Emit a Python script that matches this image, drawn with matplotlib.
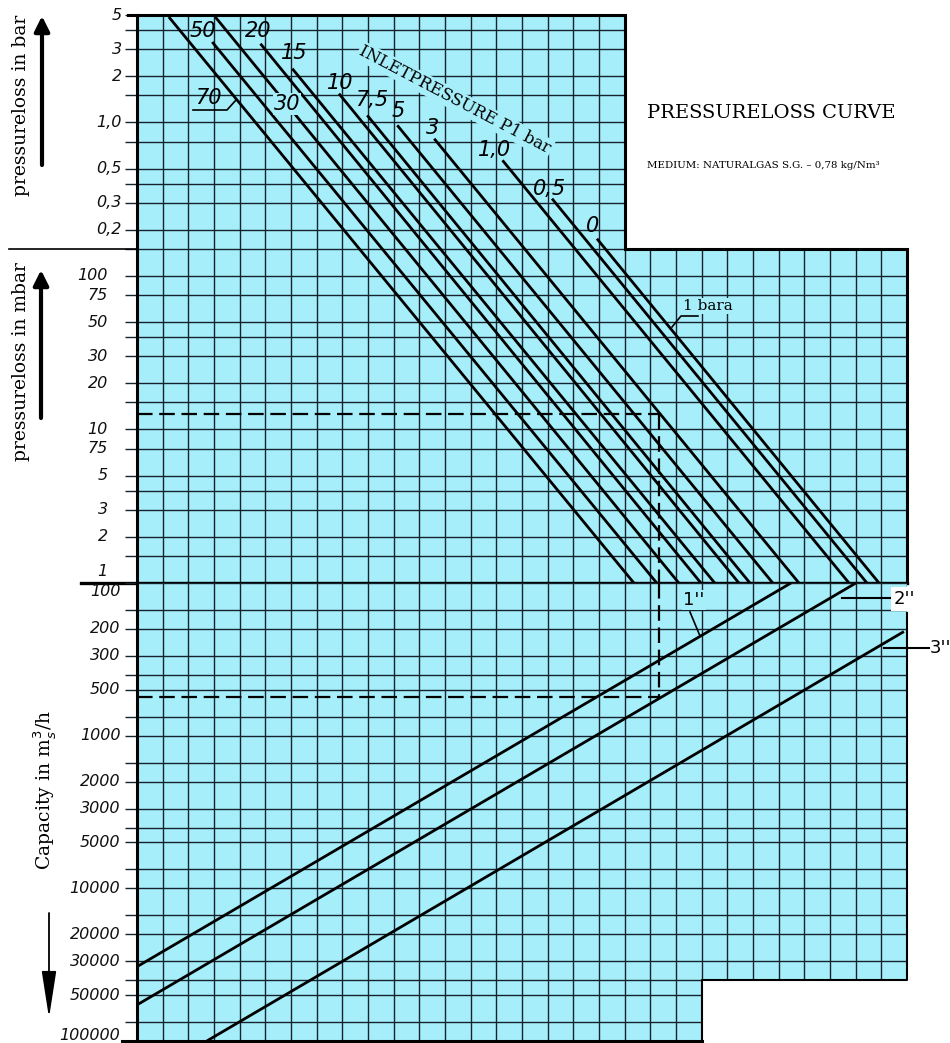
import numpy as np
import matplotlib.pyplot as plt
from matplotlib.patches import Polygon
from matplotlib.lines import Line2D
from matplotlib.ticker import NullLocator
from matplotlib.transforms import IdentityTransform

W, H = 950, 1043
CYAN = '#a6eefa'
GRID = '#14232e'

# pressure loss axis in mbar (grid lines and labelled values)
p_grid = [1, 1.5, 2, 3, 4, 5, 7.5, 10, 15, 20, 30, 40, 50, 75, 100, 150,
          200, 300, 400, 500, 750, 1000, 1500, 2000, 3000, 4000, 5000]
bar_ticks = [5000, 3000, 2000, 1000, 500, 300, 200]
bar_labels = ['5', '3', '2', '1,0', '0,5', '0,3', '0,2']
mbar_ticks = [100, 75, 50, 30, 20, 10, 7.5, 5, 3, 2, 1]
mbar_labels = ['100', '75', '50', '30', '20', '10', '75', '5', '3', '2', '1']

# capacity axis in m3/h
cap_grid = [100, 150, 200, 300, 400, 500, 750, 1000, 1500, 2000, 3000, 4000,
            5000, 7500, 10000, 15000, 20000, 30000, 40000, 50000, 75000, 100000]
cap_ticks = [100, 200, 300, 500, 1000, 2000, 3000, 5000, 10000, 20000,
             30000, 50000, 100000]

# inlet pressure lines: upper start (column, mbar) -> end on the 1 mbar line
inlet = ['70', '50', '30', '20', '15', '10', '7,5', '5', '3', '1,0', '0,5', '0']
x_start = [1.24, 2.93, 3.05, 4.81, 6.05, 7.87, 8.97, 10.14, 11.58, 14.24, 16.17, 17.92]
p_start = [4870, 3345, 4870, 3260, 2243, 1541, 1114, 959, 784, 567, 319, 175]
x_end = [19.36, 20.25, 21.11, 21.97, 22.51, 23.45, 23.88, 24.77, 25.79, 27.74, 28.44, 28.91]

# pipe size lines: (column, capacity) pairs
pipes = ['1"', '2"', '3"']
pipe_x0 = [0.0, 0.0, 2.72]
pipe_c0 = [32600, 58000, 100000]
pipe_x1 = [25.48, 28.01, 29.88]
pipe_c1 = [100, 100, 208]

# worked example (dashed)
ex_x = 20.33
ex_dp = 12.6
ex_cap = 558

fig = plt.figure(figsize=(W / 100, H / 100), dpi=100)
L, R, y_top, y_mid, y_bot = 137, 907, 15.2, 583, 1041
ax_p = fig.add_axes([L / W, 1 - y_mid / H, (R - L) / W, (y_mid - y_top) / H])
ax_c = fig.add_axes([L / W, 1 - y_bot / H, (R - L) / W, (y_bot - y_mid) / H])

ax_p.set_yscale('log')
ax_p.set_ylim(1, 5000)
ax_c.set_yscale('log')
ax_c.set_ylim(100000, 100)

top_shape = [(0, 1), (30, 1), (30, 150), (19, 150), (19, 5000), (0, 5000)]
bot_shape = [(0, 100), (30, 100), (30, 40000), (22, 40000), (22, 100000), (0, 100000)]

for ax, shape, grid in ((ax_p, top_shape, p_grid), (ax_c, bot_shape, cap_grid)):
    ax.set_xlim(0, 30)
    ax.patch.set_visible(False)
    for s in ax.spines.values():
        s.set_visible(False)
    ax.set_xticks([])
    ax.yaxis.set_minor_locator(NullLocator())
    ax.set_yticks(grid)
    ax.set_yticklabels([])
    ax.tick_params(axis='y', length=9, width=1.0, color=GRID)
    patch = Polygon(shape, closed=True, fc=CYAN, ec='none', zorder=0)
    ax.add_patch(patch)
    lo, hi = min(grid), max(grid)
    vl = ax.vlines(np.arange(0, 31), lo, hi, color=GRID, lw=1.0, zorder=1)
    hl = ax.hlines(grid, 0, 30, color=GRID, lw=1.0, zorder=1)
    vl.set_clip_path(patch)
    hl.set_clip_path(patch)

# outlines
xs, ys = zip(*(top_shape + [top_shape[0]]))
ax_p.plot(xs, ys, color='k', lw=2.2, clip_on=False, zorder=5, solid_joinstyle='miter')
ax_p.plot([-2.2, 30], [1, 1], color='k', lw=2.4, clip_on=False, zorder=5)
ax_p.plot([-5.0, 0], [150, 150], color='k', lw=1.2, clip_on=False, zorder=5)
ax_p.plot([-0.35, 0], [5000, 5000], color='k', lw=2.2, clip_on=False, zorder=5)
ax_c.plot([0, 0, 22], [100, 100000, 100000], color='k', lw=2.2, clip_on=False, zorder=5,
          solid_joinstyle='miter')
ax_c.plot([-0.6, 0], [100000, 100000], color='k', lw=2.2, clip_on=False, zorder=5)
ax_c.plot([22, 22, 30, 30], [100000, 40000, 40000, 157], color='k', lw=1.5,
          clip_on=False, zorder=5)

# inlet pressure lines
for xs0, ps0, xe in zip(x_start, p_start, x_end):
    ax_p.plot([xs0, xe], [ps0, 1], color='k', lw=2.0, zorder=3, solid_capstyle='butt')

# pipe lines
for a, b, c, d in zip(pipe_x0, pipe_c0, pipe_x1, pipe_c1):
    ax_c.plot([a, c], [b, d], color='k', lw=2.0, zorder=3, solid_capstyle='butt')

# dashed example
dash = dict(color='k', lw=1.6, dashes=(7, 3), zorder=4)
ax_p.plot([0, ex_x], [ex_dp, ex_dp], **dash)
ax_p.plot([ex_x, ex_x], [ex_dp, 1], **dash)
ax_c.plot([ex_x, ex_x], [100, ex_cap], **dash)
ax_c.plot([0, ex_x], [ex_cap, ex_cap], **dash)

# left scale labels
tick_font = dict(fontsize=11.5, fontstyle='italic', family='DejaVu Sans', color='#111')


def left_labels(ax, vals, labels, dx, dy_first=0, dy_last=0):
    for i, (v, t) in enumerate(zip(vals, labels)):
        dy = 0
        if i == 0:
            dy = dy_first
        if i == len(vals) - 1:
            dy = dy_last
        ax.annotate(t, xy=(0, v), xycoords=('axes fraction', 'data'),
                    xytext=(dx, dy), textcoords='offset points',
                    ha='right', va='center', annotation_clip=False, **tick_font)


left_labels(ax_p, bar_ticks, bar_labels, -11)
left_labels(ax_p, mbar_ticks, mbar_labels, -21, dy_last=8)
left_labels(ax_c, cap_ticks, [str(v) for v in cap_ticks], -12, dy_first=-6, dy_last=4)


def fp(x, y):
    return (x, H - y)


def txt(x, y, s, **kw):
    fig.text(x / W, 1 - y / H, s, **kw)


def leader(pts, lw=1.2):
    fig.add_artist(Line2D([p[0] for p in pts], [H - p[1] for p in pts],
                          transform=IdentityTransform(), color='k', lw=lw))


# inlet pressure labels (pixel anchor positions)
label_pos = [(208, 98), (203, 31), (287, 104), (258, 31), (294, 53), (340, 83),
             (372, 100), (398, 111), (433, 128), (495, 150), (550, 189), (593, 226)]
for t, (x, y) in zip(inlet, label_pos):
    bb = dict(boxstyle='square,pad=0.05', fc=CYAN, ec='none') if t == '30' else None
    txt(x, y, t, ha='center', va='center', fontsize=15, fontstyle='italic',
        family='DejaVu Sans', bbox=bb, zorder=6)
leader([(193, 110), (227, 110), (236, 100)])

txt(455, 100, 'INLETPRESSURE P1 bar', ha='center', va='center', rotation=-27.7,
    rotation_mode='anchor', fontsize=12, family='DejaVu Serif',
    bbox=dict(boxstyle='square,pad=0.1', fc=CYAN, ec='none'), zorder=6)

txt(647, 113, 'PRESSURELOSS CURVE', ha='left', va='center', fontsize=14,
    family='DejaVu Serif')
txt(647, 166, 'MEDIUM: NATURALGAS S.G. \u2013 0,78 kg/Nm\u00b3', ha='left', va='center',
    fontsize=7.4, family='DejaVu Serif')

txt(683, 306, '1 bara', ha='left', va='center', fontsize=11, family='DejaVu Serif',
    bbox=dict(boxstyle='square,pad=0.05', fc=CYAN, ec='none'), zorder=6)
leader([(698, 316), (681, 316), (672, 327)])

txt(694, 600, "1''", ha='center', va='center', fontsize=13, family='DejaVu Sans',
    bbox=dict(boxstyle='square,pad=0.05', fc=CYAN, ec='none'), zorder=6)
leader([(690, 612), (700, 636)])
txt(904, 599, "2''", ha='center', va='center', fontsize=13, family='DejaVu Sans',
    bbox=dict(boxstyle='square,pad=0.15', fc='white', ec='none'), zorder=6)
leader([(842, 598), (892, 598)], lw=1.5)
txt(940, 648, "3''", ha='center', va='center', fontsize=13, family='DejaVu Sans')
leader([(884, 648), (929, 648)], lw=1.5)

# axis titles and arrows
txt(21, 105, 'pressureloss in bar', rotation=90, ha='center', va='center',
    fontsize=13.5, family='DejaVu Serif')
txt(21, 362, 'pressureloss in mbar', rotation=90, ha='center', va='center',
    fontsize=13.5, family='DejaVu Serif')
txt(45, 790, 'Capacity in m$^3_s$/h', rotation=90, ha='center', va='center',
    fontsize=13.5, family='DejaVu Serif')

arrow_up = dict(arrowstyle='-|>,head_length=0.9,head_width=0.45', lw=3, color='k',
                mutation_scale=10, shrinkA=0, shrinkB=0)
ax_p.annotate('', xy=fp(42, 16), xytext=fp(42, 165), xycoords='figure pixels',
              arrowprops=arrow_up, annotation_clip=False)
ax_p.annotate('', xy=fp(41, 270), xytext=fp(41, 418), xycoords='figure pixels',
              arrowprops=arrow_up, annotation_clip=False)
ax_c.annotate('', xy=fp(49, 1018), xytext=fp(49, 913), xycoords='figure pixels',
              arrowprops=dict(arrowstyle='-|>,head_length=2.9,head_width=0.45', lw=1.3,
                              color='k', mutation_scale=10, shrinkA=0, shrinkB=0),
              annotation_clip=False)

fig.savefig('out.png', dpi=100, facecolor='white')
